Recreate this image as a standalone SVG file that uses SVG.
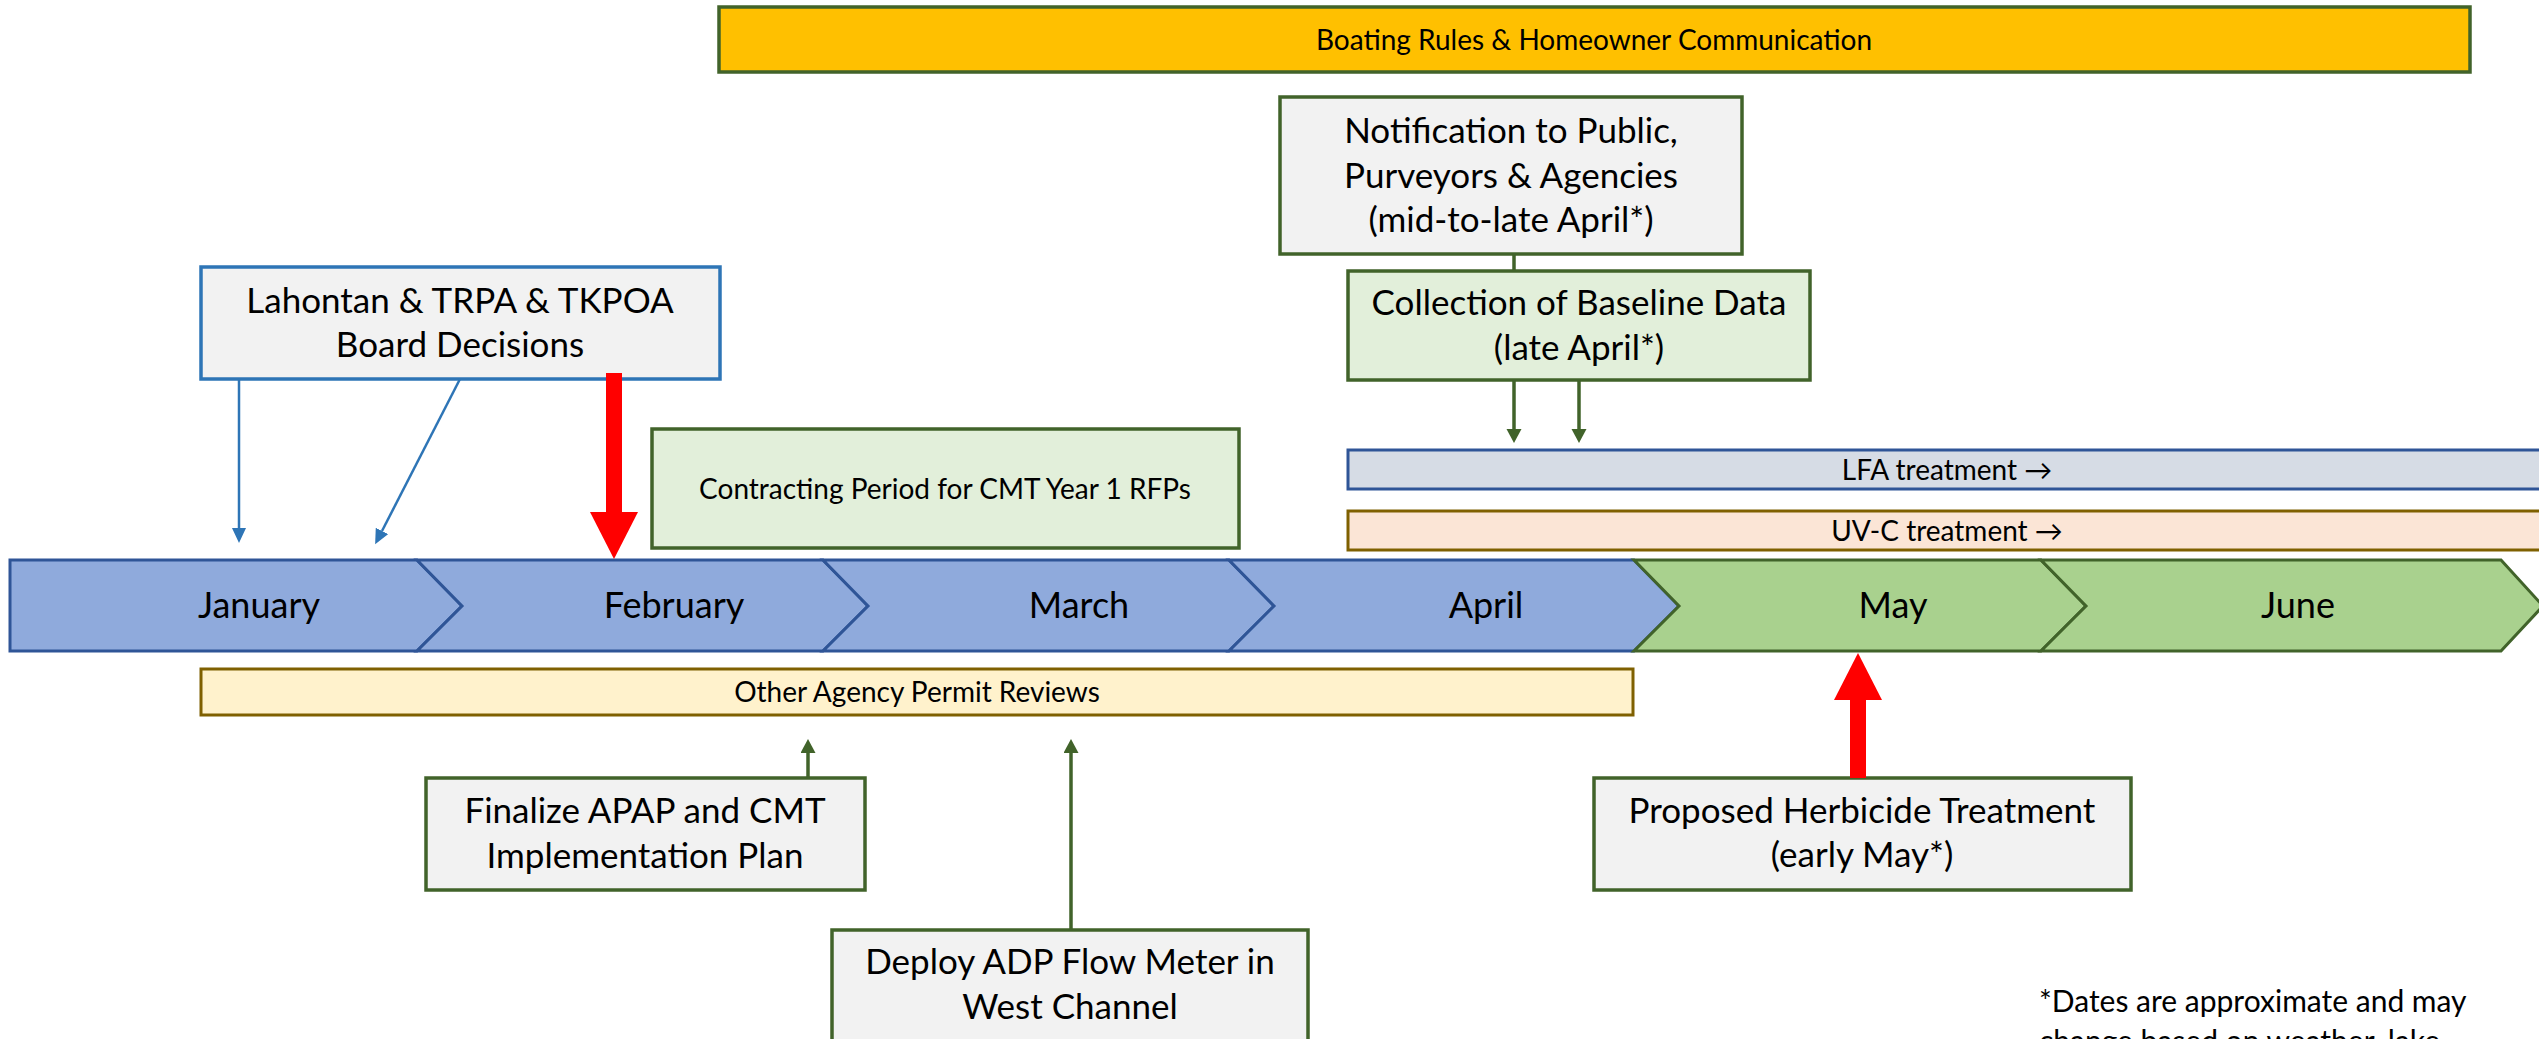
<svg xmlns="http://www.w3.org/2000/svg" width="2539" height="1039" viewBox="0 0 2539 1039">
  <defs>
    <style>
      text { font-family: Lato, "Liberation Sans", sans-serif; fill: #000; text-anchor: middle; }
      .big { font-size: 35px; }
      .small { font-size: 28px; }
      .month { font-size: 36px; }
      .note { font-size: 30px; text-anchor: start; }
      .box-gray { fill: #F2F2F2; stroke: #41632A; stroke-width: 3.5; }
      .box-green { fill: #E2EFDA; stroke: #41632A; stroke-width: 3.5; }
      .box-blue { fill: #F2F2F2; stroke: #2E75B6; stroke-width: 3.5; }
      .m-blue { fill: #8FAADC; stroke: #2F5597; stroke-width: 3; stroke-linejoin: miter; }
      .m-green { fill: #A9D18E; stroke: #41632A; stroke-width: 3; stroke-linejoin: miter; }
      .c-blue { stroke: #2E75B6; stroke-width: 2.5; fill: none; }
      .c-green { stroke: #41632A; stroke-width: 3.5; fill: none; }
      .c-red { stroke: #FF0000; stroke-width: 16; fill: none; }
    </style>
    <marker id="head-blue" markerUnits="userSpaceOnUse" markerWidth="16" markerHeight="16" refX="0" refY="7" orient="auto">
      <path d="M0,0 L15,7 L0,14 Z" fill="#2E75B6"/>
    </marker>
    <marker id="head-green" markerUnits="userSpaceOnUse" markerWidth="16" markerHeight="16" refX="0" refY="7.5" orient="auto">
      <path d="M0,0 L14,7.5 L0,15 Z" fill="#41632A"/>
    </marker>
    <marker id="head-red" markerUnits="userSpaceOnUse" markerWidth="50" markerHeight="50" refX="0" refY="24" orient="auto">
      <path d="M0,0 L47,24 L0,48 Z" fill="#FF0000"/>
    </marker>
  </defs>

  <rect width="2539" height="1039" fill="#FFFFFF"/>

  <!-- month timeline -->
  <g id="timeline">
    <g id="m-jan">
      <path class="m-blue" d="M10,560 L417,560 L462,606 L417,651 L10,651 Z"/>
      <text class="month" x="259" y="618">January</text>
    </g>
    <g id="m-feb">
      <path class="m-blue" d="M417,560 L823,560 L868,606 L823,651 L417,651 L462,606 Z"/>
      <text class="month" x="674" y="618">February</text>
    </g>
    <g id="m-mar">
      <path class="m-blue" d="M823,560 L1229,560 L1274,606 L1229,651 L823,651 L868,606 Z"/>
      <text class="month" x="1079" y="618">March</text>
    </g>
    <g id="m-apr">
      <path class="m-blue" d="M1229,560 L1634,560 L1679,606 L1634,651 L1229,651 L1274,606 Z"/>
      <text class="month" x="1486" y="618">April</text>
    </g>
    <g id="m-may">
      <path class="m-green" d="M1634,560 L2041,560 L2086,606 L2041,651 L1634,651 L1679,606 Z"/>
      <text class="month" x="1893" y="618">May</text>
    </g>
    <g id="m-jun">
      <path class="m-green" d="M2041,560 L2501,560 L2543,606 L2501,651 L2041,651 L2086,606 Z"/>
      <text class="month" x="2298" y="618">June</text>
    </g>
  </g>

  <!-- span bars -->
  <g id="boating">
    <rect x="719" y="7" width="1751" height="65" fill="#FFC000" stroke="#41632A" stroke-width="3.5"/>
    <text class="small" x="1594" y="50">Boating Rules &amp; Homeowner Communication</text>
  </g>
  <g id="lfa">
    <rect x="1348" y="450" width="1200" height="39" fill="#D6DCE5" stroke="#2F5597" stroke-width="3"/>
    <text class="small" x="1947" y="480">LFA treatment →</text>
  </g>
  <g id="uvc">
    <rect x="1348" y="511" width="1200" height="39" fill="#FBE5D6" stroke="#7F6000" stroke-width="3"/>
    <text class="small" x="1947" y="541">UV-C treatment →</text>
  </g>
  <g id="permits">
    <rect x="201" y="669" width="1432" height="46" fill="#FFF2CC" stroke="#7F6000" stroke-width="3"/>
    <text class="small" x="917" y="702">Other Agency Permit Reviews</text>
  </g>
  <g id="contracting">
    <rect class="box-green" x="652" y="429" width="587" height="119"/>
    <text class="small" x="945" y="499">Contracting Period for CMT Year 1 RFPs</text>
  </g>

  <!-- milestone boxes -->
  <g id="board-decisions">
    <rect class="box-blue" x="201" y="267" width="519" height="112"/>
    <text class="big" x="460" y="313">Lahontan &amp; TRPA &amp; TKPOA</text>
    <text class="big" x="460" y="357">Board Decisions</text>
  </g>
  <g id="notification">
    <rect class="box-gray" x="1280" y="97" width="462" height="157"/>
    <text class="big" x="1511" y="143">Notification to Public,</text>
    <text class="big" x="1511" y="188">Purveyors &amp; Agencies</text>
    <text class="big" x="1511" y="232">(mid-to-late April*)</text>
  </g>
  <g id="baseline-data">
    <rect class="box-green" x="1348" y="271" width="462" height="109"/>
    <text class="big" x="1579" y="315">Collection of Baseline Data</text>
    <text class="big" x="1579" y="360">(late April*)</text>
  </g>
  <g id="finalize-apap">
    <rect class="box-gray" x="426" y="778" width="439" height="112"/>
    <text class="big" x="645" y="823">Finalize APAP and CMT</text>
    <text class="big" x="645" y="868">Implementation Plan</text>
  </g>
  <g id="deploy-adp">
    <rect class="box-gray" x="832" y="930" width="476" height="140"/>
    <text class="big" x="1070" y="974">Deploy ADP Flow Meter in</text>
    <text class="big" x="1070" y="1019">West Channel</text>
  </g>
  <g id="herbicide">
    <rect class="box-gray" x="1594" y="778" width="537" height="112"/>
    <text class="big" x="1862" y="823">Proposed Herbicide Treatment</text>
    <text class="big" x="1862" y="867">(early May*)</text>
  </g>

  <!-- connectors -->
  <g id="connectors">
    <line class="c-blue" x1="239" y1="379" x2="239" y2="528" marker-end="url(#head-blue)"/>
    <line class="c-blue" x1="460" y1="379" x2="382" y2="531" marker-end="url(#head-blue)"/>
    <line class="c-red" x1="614" y1="373" x2="614" y2="512" marker-end="url(#head-red)"/>
    <line class="c-green" x1="1514" y1="254" x2="1514" y2="271"/>
    <line class="c-green" x1="1514" y1="380" x2="1514" y2="429" marker-end="url(#head-green)"/>
    <line class="c-green" x1="1579" y1="380" x2="1579" y2="429" marker-end="url(#head-green)"/>
    <line class="c-green" x1="808" y1="778" x2="808" y2="753" marker-end="url(#head-green)"/>
    <line class="c-green" x1="1071" y1="930" x2="1071" y2="753" marker-end="url(#head-green)"/>
    <line class="c-red" x1="1858" y1="778" x2="1858" y2="700" marker-end="url(#head-red)"/>
  </g>

  <!-- footnote (continues below the page edge) -->
  <g id="footnote">
    <text class="note" x="2039" y="1012">*Dates are approximate and may</text>
    <text class="note" x="2039" y="1052">change based on weather, lake</text>
  </g>
</svg>
